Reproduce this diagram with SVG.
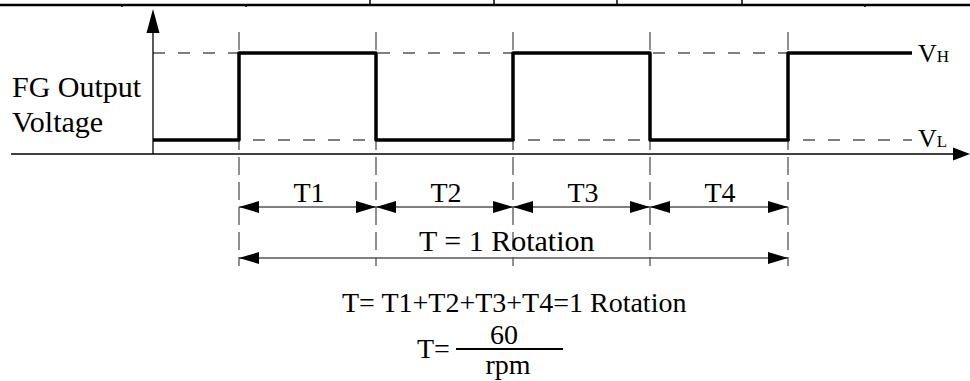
<svg xmlns="http://www.w3.org/2000/svg" width="970" height="381" viewBox="0 0 970 381">
<defs>
<style>
text{font-family:"Liberation Serif","Times New Roman",serif;fill:#000}
.lbl{font-size:30px}
.tl{font-size:28px;text-anchor:middle}
.dash{stroke:#555;stroke-width:1.3;stroke-dasharray:12 13;fill:none}
.vdash{stroke:#555;stroke-width:1.3;stroke-dasharray:18 7;fill:none}
.dim{stroke:#555;stroke-width:1.6;fill:none}
.ax{stroke:#000;stroke-width:1.3;fill:none}
</style>
<marker id="ah" viewBox="0 0 20 12" refX="20" refY="6" markerWidth="20" markerHeight="12" markerUnits="userSpaceOnUse" orient="auto-start-reverse">
<path d="M0,0L20,6L0,12Z" fill="#000"/>
</marker>
</defs>
<rect width="970" height="381" fill="#fff"/>
<g id="frame">
<line x1="0" y1="5" x2="970" y2="5" stroke="#000" stroke-width="2.5"/>
<path d="M370,0V6M494,0V6M617,0V6M742,0V6M122,5V7M246,5V7M865,5V7" stroke="#000" stroke-width="1.5"/>
</g>
<g id="guides">
<line class="dash" x1="153" y1="53" x2="912" y2="53"/>
<line class="dash" x1="153" y1="140" x2="912" y2="140"/>
<path class="vdash" d="M239,32V266M376,32V266M513,32V266M650,32V266M788,32V266"/>
</g>
<g id="axes">
<line class="ax" x1="153" y1="154" x2="153" y2="33"/>
<path d="M153,9L146.5,33H159.5Z" fill="#000"/>
<line class="ax" x1="11" y1="154" x2="955" y2="154"/>
<path d="M970,154L953,147.5V160.5Z" fill="#000"/>
</g>
<g id="waveform">
<path d="M153,140H239V53H376V140H513V53H650V140H788V53H912" fill="none" stroke="#000" stroke-width="3.5" stroke-linejoin="round"/>
</g>
<g id="connectors">
<line class="dim" x1="239" y1="207" x2="376" y2="207" marker-start="url(#ah)" marker-end="url(#ah)"/>
<line class="dim" x1="376" y1="207" x2="513" y2="207" marker-start="url(#ah)" marker-end="url(#ah)"/>
<line class="dim" x1="513" y1="207" x2="650" y2="207" marker-start="url(#ah)" marker-end="url(#ah)"/>
<line class="dim" x1="650" y1="207" x2="788" y2="207" marker-start="url(#ah)" marker-end="url(#ah)"/>
<line class="dim" x1="239" y1="258" x2="788" y2="258" marker-start="url(#ah)" marker-end="url(#ah)"/>
</g>
<g id="labels">
<text class="lbl" x="12" y="97">FG Output</text>
<text class="lbl" x="12" y="132">Voltage</text>
<text x="918" y="62" font-size="26">V<tspan font-size="17">H</tspan></text>
<text x="918" y="147" font-size="26">V<tspan font-size="17">L</tspan></text>
<text class="tl" x="309" y="202">T1</text>
<text class="tl" x="446" y="202">T2</text>
<text class="tl" x="583" y="202">T3</text>
<text class="tl" x="720" y="202">T4</text>
<text class="lbl" x="419" y="251">T = 1 Rotation</text>
</g>
<g id="formula">
<text font-size="28" x="342" y="312">T= T1+T2+T3+T4=1 Rotation</text>
<text font-size="28" x="417" y="358">T=</text>
<text font-size="28" x="504" y="344" text-anchor="middle">60</text>
<line x1="456" y1="349" x2="563" y2="349" stroke="#000" stroke-width="2.2"/>
<text font-size="28" x="508" y="374" text-anchor="middle">rpm</text>
</g>
</svg>
